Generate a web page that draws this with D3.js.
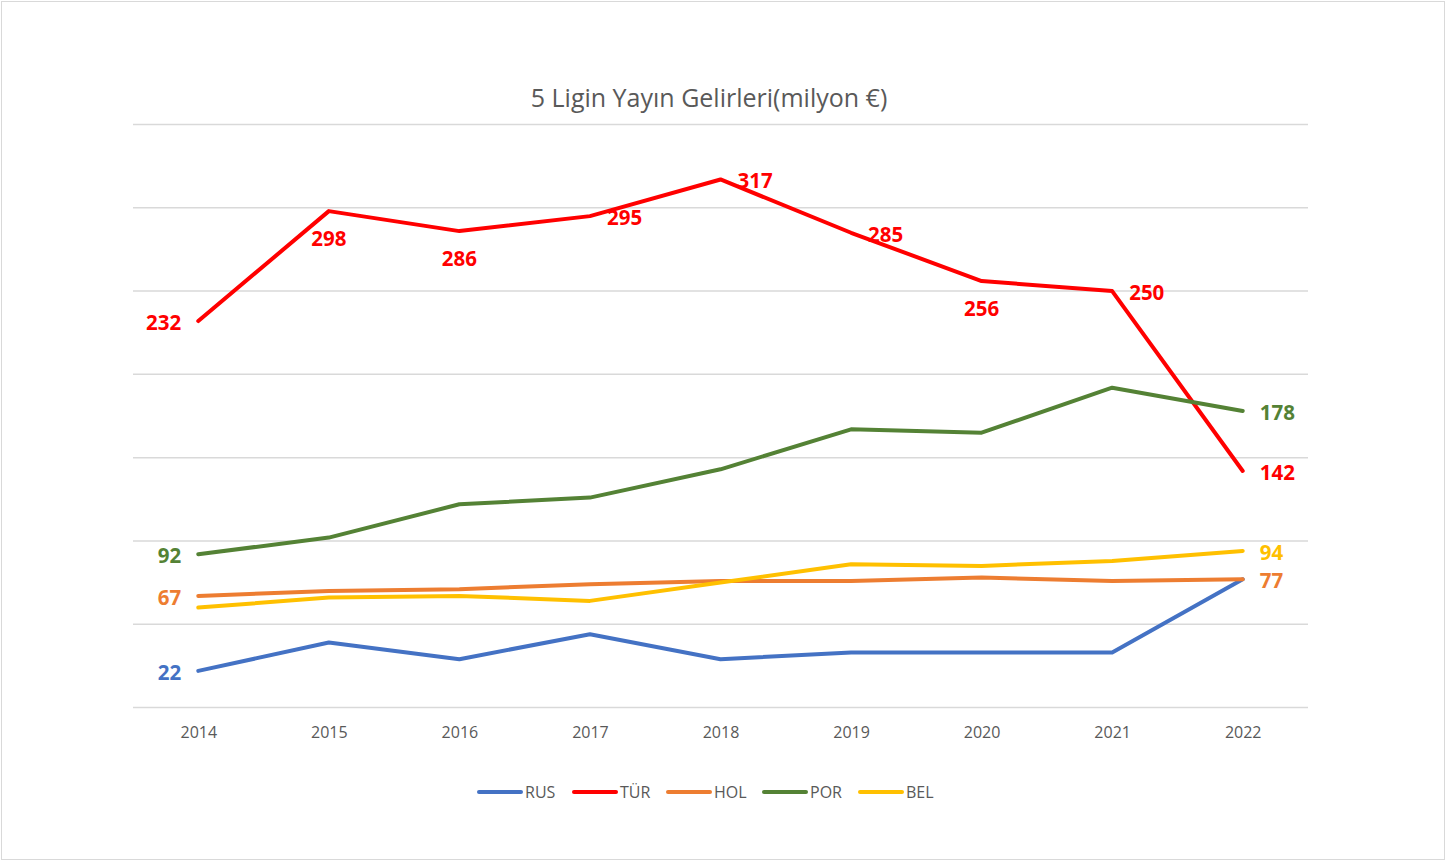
<!DOCTYPE html>
<html>
<head>
<meta charset="utf-8">
<script src="https://cdn.jsdelivr.net/npm/d3@7"></script>
<style>
  html, body { margin: 0; padding: 0; background: #fff; }
  svg { display: block; }
</style>
</head>
<body>
<svg id="chart" width="1447" height="862"></svg>
<script>
const years = ["2014","2015","2016","2017","2018","2019","2020","2021","2022"];
const seriesNames = ["RUS","TÜR","HOL","POR","BEL"];
const rus = [22, 39, 29, 44, 29, 33, 33, 33, 77];
const tur = [232, 298, 286, 295, 317, 285, 256, 250, 142];
const hol = [67, 70, 71, 74, 76, 76, 78, 76, 77];
const por = [92, 102, 122, 126, 143, 167, 165, 192, 178];
const bel = [60, 66, 67, 64, 75, 86, 85, 88, 94];
const yTicks = [0, 50, 100, 150, 200, 250, 300, 350];
const titleText = "5 Ligin Yayın Gelirleri(milyon €)";

// label config: [seriesIndex, pointIndex, placement]
const labelSpec = [
  [0, 0, "left"],
  [1, 0, "left"], [1, 1, "below"], [1, 2, "below"], [1, 3, "right"], [1, 4, "right"],
  [1, 5, "right"], [1, 6, "below"], [1, 7, "right"], [1, 8, "right"],
  [2, 0, "left"], [2, 8, "right"],
  [3, 0, "left"], [3, 8, "right"],
  [4, 8, "right"]
];

const colors = ["#4472C4", "#FF0000", "#ED7D31", "#548235", "#FFC000"];
const values = [rus, tur, hol, por, bel];
const series = seriesNames.map((n, i) => ({ name: n, color: colors[i], values: values[i] }));

const svg = d3.select("#chart");
const font = "'Open Sans', 'Liberation Sans', sans-serif";

// border
svg.append("rect").attr("x", 1.5).attr("y", 1.5).attr("width", 1443).attr("height", 858)
  .attr("fill", "#fff").attr("stroke", "#d9d9d9").attr("stroke-width", 1);

const x = d3.scalePoint().domain(years).range([133, 1308]).padding(0.5);
const y = d3.scaleLinear().domain([0, 350]).range([707.5, 124.5]);

// gridlines
svg.append("g").selectAll("line").data(yTicks).join("line")
  .attr("x1", 133).attr("x2", 1308)
  .attr("y1", d => y(d)).attr("y2", d => y(d))
  .attr("stroke", "#d9d9d9").attr("stroke-width", 1.5);

// x axis labels
const xAxis = d3.axisBottom(x).tickSize(0).tickPadding(0);
const gx = svg.append("g").attr("transform", `translate(0, ${y(0)})`).call(xAxis);
gx.select(".domain").remove();
gx.selectAll("text").attr("font-family", font).attr("font-size", 16)
  .attr("fill", "#595959").attr("dy", null).attr("y", 24.5)
  .attr("dominant-baseline", "central");

// title
svg.append("text").attr("x", 709).attr("y", 97).attr("text-anchor", "middle")
  .attr("dominant-baseline", "central")
  .attr("font-family", font).attr("font-size", 25).attr("fill", "#595959")
  .text(titleText);

// lines
const line = d3.line().x((d, i) => x(years[i])).y(d => y(d));
svg.append("g").selectAll("path").data(series).join("path")
  .attr("d", d => line(d.values))
  .attr("fill", "none").attr("stroke", d => d.color).attr("stroke-width", 4)
  .attr("stroke-linejoin", "round").attr("stroke-linecap", "round");

// data labels
const lg = svg.append("g");
labelSpec.forEach(([si, pi, pos]) => {
  const s = series[si];
  const px = x(years[pi]), py = y(s.values[pi]);
  let tx = px, ty = py + 1, anchor = "middle";
  if (pos === "left") { tx = px - 17; anchor = "end"; }
  else if (pos === "right") { tx = px + 17; anchor = "start"; }
  else if (pos === "below") { ty = py + 27; }
  lg.append("text").attr("x", tx).attr("y", ty)
    .attr("text-anchor", anchor).attr("dominant-baseline", "central")
    .attr("font-family", font).attr("font-size", 20.5).attr("font-weight", "bold")
    .attr("fill", s.color).text(s.values[pi]);
});

// legend
const legendX = [479, 574, 668, 764, 860];
const leg = svg.append("g");
series.forEach((s, i) => {
  const g = leg.append("g").attr("transform", `translate(${legendX[i]}, 792)`);
  g.append("line").attr("x1", 0).attr("x2", 42).attr("y1", 0).attr("y2", 0)
    .attr("stroke", s.color).attr("stroke-width", 4).attr("stroke-linecap", "round");
  g.append("text").attr("x", 46).attr("y", 0).attr("dominant-baseline", "central")
    .attr("font-family", font).attr("font-size", 16).attr("fill", "#595959").text(s.name);
});
</script>
</body>
</html>
